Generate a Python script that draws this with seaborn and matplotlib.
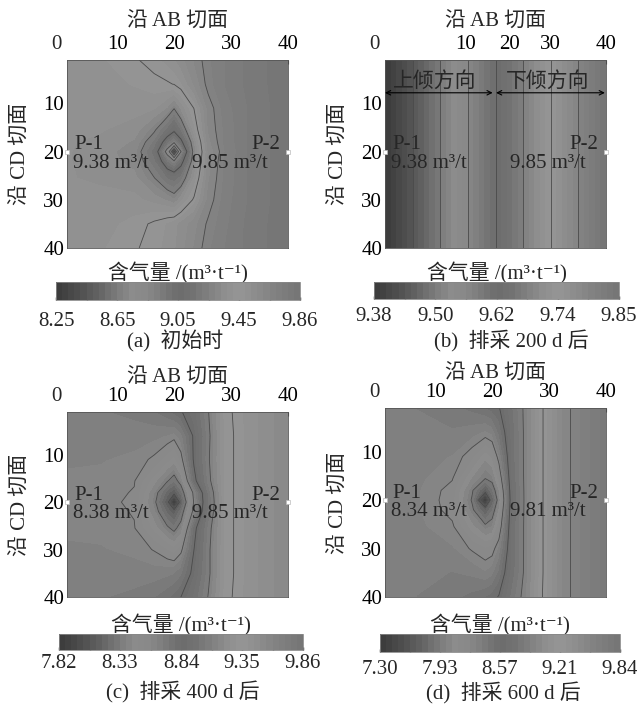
import numpy as np
import matplotlib
matplotlib.use('Agg')
import matplotlib.pyplot as plt
import seaborn as sns

# Sample grid along AB (x) and CD (y) sections
grid_x = [1.2, 7, 13, 16.5, 18.8, 20, 21.2, 23.5, 26, 29, 33, 40]
grid_y = [1, 6, 11, 15.5, 18, 20, 22, 25.5, 30, 35, 40]

# (a) initial gas content, m3/t
gas_a = [
    [9.40, 9.41, 9.45, 9.48, 9.51, 9.53, 9.56, 9.62, 9.69, 9.74, 9.79, 9.85],
    [9.39, 9.40, 9.42, 9.44, 9.45, 9.46, 9.49, 9.58, 9.68, 9.74, 9.79, 9.85],
    [9.38, 9.39, 9.39, 9.38, 9.33, 9.26, 9.34, 9.46, 9.63, 9.72, 9.78, 9.85],
    [9.38, 9.38, 9.36, 9.27, 9.15, 9.08, 9.17, 9.40, 9.62, 9.71, 9.78, 9.85],
    [9.38, 9.37, 9.33, 9.20, 8.98, 8.90, 9.02, 9.33, 9.60, 9.71, 9.78, 9.85],
    [9.38, 9.36, 9.31, 9.15, 8.80, 8.25, 8.85, 9.30, 9.58, 9.70, 9.78, 9.85],
    [9.38, 9.36, 9.32, 9.18, 8.96, 8.88, 9.00, 9.32, 9.59, 9.71, 9.78, 9.85],
    [9.38, 9.37, 9.35, 9.26, 9.17, 9.15, 9.19, 9.38, 9.61, 9.71, 9.78, 9.85],
    [9.38, 9.39, 9.39, 9.36, 9.33, 9.30, 9.36, 9.47, 9.63, 9.72, 9.78, 9.85],
    [9.39, 9.40, 9.43, 9.47, 9.50, 9.52, 9.55, 9.60, 9.67, 9.73, 9.79, 9.85],
    [9.40, 9.41, 9.45, 9.48, 9.51, 9.53, 9.56, 9.62, 9.69, 9.74, 9.79, 9.85],
]

# (b) after 200 d: only varies along AB
gas_b_x = [1.2, 40]
gas_b_y = [1, 40]
gas_b = [9.38, 9.85]

# (c) after 400 d
gas_c = [
    [8.66, 8.68, 8.70, 8.73, 8.77, 8.80, 8.83, 8.92, 9.09, 9.32, 9.42, 9.55],
    [8.65, 8.66, 8.66, 8.65, 8.63, 8.61, 8.66, 8.86, 9.07, 9.31, 9.42, 9.55],
    [8.64, 8.64, 8.62, 8.57, 8.50, 8.46, 8.55, 8.86, 9.08, 9.31, 9.42, 9.55],
    [8.63, 8.62, 8.59, 8.45, 8.34, 8.28, 8.38, 8.80, 9.06, 9.31, 9.42, 9.55],
    [8.62, 8.61, 8.58, 8.38, 8.20, 8.12, 8.25, 8.62, 9.00, 9.31, 9.42, 9.55],
    [8.62, 8.61, 8.57, 8.36, 8.12, 7.82, 8.15, 8.60, 8.98, 9.31, 9.42, 9.55],
    [8.62, 8.61, 8.58, 8.39, 8.21, 8.14, 8.26, 8.63, 9.00, 9.31, 9.42, 9.55],
    [8.63, 8.62, 8.59, 8.46, 8.35, 8.30, 8.38, 8.80, 9.05, 9.31, 9.42, 9.55],
    [8.64, 8.64, 8.62, 8.58, 8.53, 8.50, 8.56, 8.84, 9.07, 9.31, 9.42, 9.55],
    [8.65, 8.66, 8.66, 8.66, 8.67, 8.68, 8.72, 8.88, 9.07, 9.31, 9.42, 9.55],
    [8.66, 8.68, 8.70, 8.73, 8.77, 8.80, 8.84, 8.95, 9.10, 9.32, 9.42, 9.55],
]

# (d) after 600 d
gas_d = [
    [8.36, 8.38, 8.42, 8.46, 8.50, 8.53, 8.56, 8.75, 8.93, 9.21, 9.50, 9.75],
    [8.36, 8.37, 8.37, 8.34, 8.30, 8.33, 8.45, 8.72, 8.93, 9.21, 9.50, 9.75],
    [8.35, 8.35, 8.31, 8.20, 8.08, 8.13, 8.30, 8.72, 8.93, 9.21, 9.50, 9.75],
    [8.34, 8.33, 8.26, 8.05, 7.94, 7.98, 8.15, 8.70, 8.93, 9.21, 9.50, 9.75],
    [8.33, 8.32, 8.22, 7.95, 7.70, 7.85, 8.05, 8.68, 8.93, 9.21, 9.50, 9.75],
    [8.34, 8.32, 8.21, 7.92, 7.30, 7.75, 8.00, 8.67, 8.93, 9.21, 9.50, 9.75],
    [8.33, 8.32, 8.22, 7.96, 7.72, 7.86, 8.06, 8.68, 8.93, 9.21, 9.50, 9.75],
    [8.34, 8.33, 8.27, 8.08, 7.97, 8.00, 8.16, 8.70, 8.93, 9.21, 9.50, 9.75],
    [8.35, 8.35, 8.32, 8.24, 8.19, 8.21, 8.32, 8.70, 8.93, 9.21, 9.50, 9.75],
    [8.36, 8.37, 8.38, 8.36, 8.32, 8.35, 8.45, 8.72, 8.93, 9.21, 9.50, 9.75],
    [8.36, 8.38, 8.42, 8.46, 8.50, 8.53, 8.58, 8.78, 8.95, 9.22, 9.50, 9.75],
]

# colour bar ranges and labels
ranges = {'a': (8.25, 9.86), 'b': (9.38, 9.85), 'c': (7.82, 9.86), 'd': (7.30, 9.84)}
cb_labels = {
    'a': ['8.25', '8.65', '9.05', '9.45', '9.86'],
    'b': ['9.38', '9.50', '9.62', '9.74', '9.85'],
    'c': ['7.82', '8.33', '8.84', '9.35', '9.86'],
    'd': ['7.30', '7.93', '8.57', '9.21', '9.84'],
}
p1_text = {'a': '9.38 m³/t', 'b': '9.38 m³/t', 'c': '8.38 m³/t', 'd': '8.34 m³/t'}
p2_text = {'a': '9.85 m³/t', 'b': '9.85 m³/t', 'c': '9.85 m³/t', 'd': '9.81 m³/t'}
captions = {'a': '(a)  初始时', 'b': '(b)  排采 200 d 后', 'c': '(c)  排采 400 d 后', 'd': '(d)  排采 600 d 后'}
well_x = [1.2, 40]
well_y = [20, 20]
x_ticks = [10, 20, 30, 40]
y_ticks = [10, 20, 30, 40]
b_tick_pos = [15.4, 23.1, 30.3, 40]

sns.set_style('white')
plt.rcParams['font.family'] = ['Liberation Serif', 'Noto Sans CJK SC', 'DejaVu Serif']
plt.rcParams['font.size'] = 15
plt.rcParams['axes.unicode_minus'] = False

gray = sns.blend_palette(['#3a3a3a', '#484848', '#565656', '#686868', '#7c7c7c', '#8c8c8c',
                          '#888888', '#7a7a7a', '#6c6c6c', '#727272', '#808080', '#8e8e8e',
                          '#969696', '#8e8e8e', '#848484', '#7c7c7c', '#747474'], as_cmap=True)

W, H = 637, 706
fig = plt.figure(figsize=(W / 100, H / 100), dpi=100)


def box(x0, y0, x1, y1):
    return [x0 / W, 1 - y1 / H, (x1 - x0) / W, (y1 - y0) / H]


layout = {
    'a': dict(ax=(67, 60, 288, 248), cb=(56, 282, 300, 300), tpad=6, cpad=9, cap=(175, 341)),
    'b': dict(ax=(385, 60, 606, 248), cb=(374, 282, 619, 299), tpad=6, cpad=6, cap=(511, 341)),
    'c': dict(ax=(67, 412, 288, 597), cb=(59, 634, 303, 650), tpad=3, cpad=3, cap=(183, 692)),
    'd': dict(ax=(385, 408, 606, 597), cb=(380, 634, 620, 652), tpad=3, cpad=6, cap=(503, 693)),
}

for key in ['a', 'b', 'c', 'd']:
    lay = layout[key]
    vmin, vmax = ranges[key]
    if key == 'b':
        X, Y = np.meshgrid(gas_b_x, gas_b_y)
        Z = np.tile(gas_b, (len(gas_b_y), 1))
    else:
        X, Y = np.meshgrid(grid_x, grid_y)
        Z = np.array({'a': gas_a, 'c': gas_c, 'd': gas_d}[key])

    ax = fig.add_axes(box(*lay['ax']))
    fill_levels = np.linspace(vmin, vmax, 41)
    line_levels = np.linspace(vmin, vmax, 9)
    cf = ax.contourf(X, Y, Z, levels=fill_levels, cmap=gray, vmin=vmin, vmax=vmax)
    ax.contour(X, Y, Z, levels=line_levels[1:-1], colors='#4a4a4a', linewidths=0.6)
    ax.set_xlim(1.2, 40)
    ax.set_ylim(40, 1)

    ax.xaxis.tick_top()
    ax.xaxis.set_label_position('top')
    if key == 'b':
        ax.set_xticks(b_tick_pos)
    else:
        ax.set_xticks(x_ticks)
    ax.set_xticklabels([str(t) for t in x_ticks])
    ax.set_yticks(y_ticks)
    ax.tick_params(direction='in', length=3, width=0.8, color='#222222', pad=2, labelcolor='black')
    ax.tick_params(axis='x', pad=4)
    ax.annotate('0', xy=(-0.6, 1), xycoords=('data', 'axes fraction'), xytext=(0, 4),
                textcoords='offset points', ha='center', va='bottom', annotation_clip=False)
    for sp in ax.spines.values():
        sp.set_linewidth(0.6)
        sp.set_color('#555555')
    ax.set_xlabel('沿 AB 切面', labelpad=lay['tpad'])
    ax.set_ylabel('沿 CD 切面', labelpad=9)

    # monitoring points
    ax.plot(well_x, well_y, ls='none', marker='s', ms=3.5, mfc='white', mec='#bbbbbb',
            mew=0.5, clip_on=False, zorder=5)
    ax.text(2.5, 18.6, 'P-1', ha='left', va='center')
    ax.text(2.3, 22.4, p1_text[key], ha='left', va='center')
    ax.text(38.6, 18.6, 'P-2', ha='right', va='center')
    ax.text(23.1, 22.4, p2_text[key], ha='left', va='center')

    if key == 'b':
        ax.text(9.9, 5.6, '上倾方向', ha='center', va='center')
        ax.text(29.8, 5.6, '下倾方向', ha='center', va='center')
        arrow = dict(arrowstyle='<->', lw=0.8, color='black', shrinkA=0, shrinkB=0,
                     mutation_scale=8)
        ax.annotate('', xy=(20.1, 7.8), xytext=(1.2, 7.8), arrowprops=arrow)
        ax.annotate('', xy=(39.8, 7.8), xytext=(20.7, 7.8), arrowprops=arrow)

    cax = fig.add_axes(box(*lay['cb']))
    cb = fig.colorbar(cf, cax=cax, orientation='horizontal')
    cb.set_ticks(np.linspace(vmin, vmax, 5), labels=cb_labels[key])
    cax.set_xticks(line_levels, minor=True)
    cax.tick_params(which='both', direction='in', length=2.5, width=1, color='#222222',
                    pad=lay['cpad'], bottom=True, top=False)
    cb.outline.set_linewidth(0.6)
    cb.outline.set_edgecolor('#888888')
    cax.xaxis.set_label_position('top')
    cax.set_xlabel('含气量 /(m³·t⁻¹)', labelpad=2)

    cx, cy = lay['cap']
    fig.text(cx / W, 1 - cy / H, captions[key], ha='center', va='center')

fig.savefig('out.png', dpi=100, facecolor='white')
